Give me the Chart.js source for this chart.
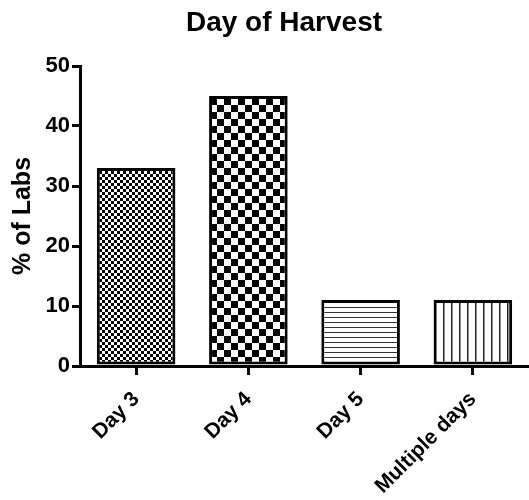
<!DOCTYPE html>
<html>
<head>
<meta charset="utf-8">
<script src="https://cdn.jsdelivr.net/npm/chart.js@4"></script>
<style>
  body { margin: 0; background: #fff; }
</style>
</head>
<body>
<canvas id="canvas1" width="529" height="500"></canvas>
<script>
'use strict';

const categories = ['Day 3', 'Day 4', 'Day 5', 'Multiple days'];
const labPercent = [33, 45, 11, 11];
const yTicks = [0, 10, 20, 30, 40, 50];

const FONT = '"Liberation Sans", Arial, sans-serif';

// small tiles used as bar fills
function makePattern(kind) {
    let c = document.createElement('canvas');
    let g = c.getContext('2d');
    if (kind == 'fineCheck' || kind == 'bigCheck') {
        let s = kind == 'fineCheck' ? 3 : 7;
        c.width = s * 2; c.height = s * 2;
        g.fillStyle = '#fff';
        g.fillRect(0, 0, s * 2, s * 2);
        g.fillStyle = '#000';
        g.fillRect(0, 0, s, s);
        g.fillRect(s, s, s, s);
    } else if (kind == 'hLines') {
        c.width = 5; c.height = 5;
        g.fillStyle = '#fff';
        g.fillRect(0, 0, 5, 5);
        g.fillStyle = '#333';
        g.fillRect(0, 2, 5, 1);
    } else {
        c.width = 8; c.height = 8;
        g.fillStyle = '#fff';
        g.fillRect(0, 0, 8, 8);
        g.fillStyle = '#222';
        g.fillRect(3, 0, 1.5, 8);
    }
    return g.createPattern(c, 'repeat');
}

let fills = [
    makePattern('fineCheck'),
    makePattern('bigCheck'),
    makePattern('hLines'),
    makePattern('vLines'),
];

let titlePlugin = {
    id: 'topTitle',
    afterDraw(chart) {
        let ctx = chart.ctx;
        ctx.save();
        ctx.fillStyle = '#000';
        ctx.font = 'bold 28px ' + FONT;
        ctx.textAlign = 'center';
        ctx.textBaseline = 'alphabetic';
        ctx.fillText('Day of Harvest', 284, 31);
        ctx.restore();
    }
};

let canvas1 = document.querySelector('#canvas1');

let chart1 = new Chart(canvas1, {
    type: 'bar',
    data: {
        labels: categories,
        datasets: [
            {
                label: '% of Labs',
                data: labPercent,
                backgroundColor: fills,
                borderColor: '#000',
                borderWidth: 3,
                borderSkipped: false,
                barPercentage: 0.7,
                categoryPercentage: 1.0,
            },
        ],
    },
    options: {
        responsive: false,
        devicePixelRatio: 1,
        animation: false,
        layout: { padding: { top: 66, left: 0, right: 0, bottom: 0 } },
        plugins: {
            legend: { display: false },
            title: { display: false },
            tooltip: { enabled: false },
        },
        scales: {
            x: {
                afterFit: s => { s.height = 134; },
                border: { display: true, color: '#000', width: 3 },
                grid: {
                    offset: false,
                    drawOnChartArea: false,
                    drawTicks: true,
                    tickLength: 9,
                    lineWidth: 3,
                    color: '#000',
                },
                ticks: {
                    color: '#000',
                    minRotation: 45,
                    maxRotation: 45,
                    padding: 12,
                    font: { family: FONT, size: 21, weight: 'bold' },
                },
            },
            y: {
                min: 0,
                max: 50,
                afterFit: s => { s.width = 80; },
                afterBuildTicks: s => { s.ticks = yTicks.map(v => ({ value: v })); },
                border: { display: true, color: '#000', width: 3 },
                grid: {
                    drawOnChartArea: false,
                    drawTicks: true,
                    tickLength: 8,
                    lineWidth: 3,
                    color: '#000',
                },
                ticks: {
                    color: '#000',
                    padding: 2,
                    font: { family: FONT, size: 22, weight: 'bold' },
                },
                title: {
                    display: true,
                    text: '% of Labs',
                    color: '#000',
                    padding: { top: 8, bottom: 0 },
                    font: { family: FONT, size: 25, weight: 'bold' },
                },
            },
        },
    },
    plugins: [titlePlugin],
});
</script>
</body>
</html>
